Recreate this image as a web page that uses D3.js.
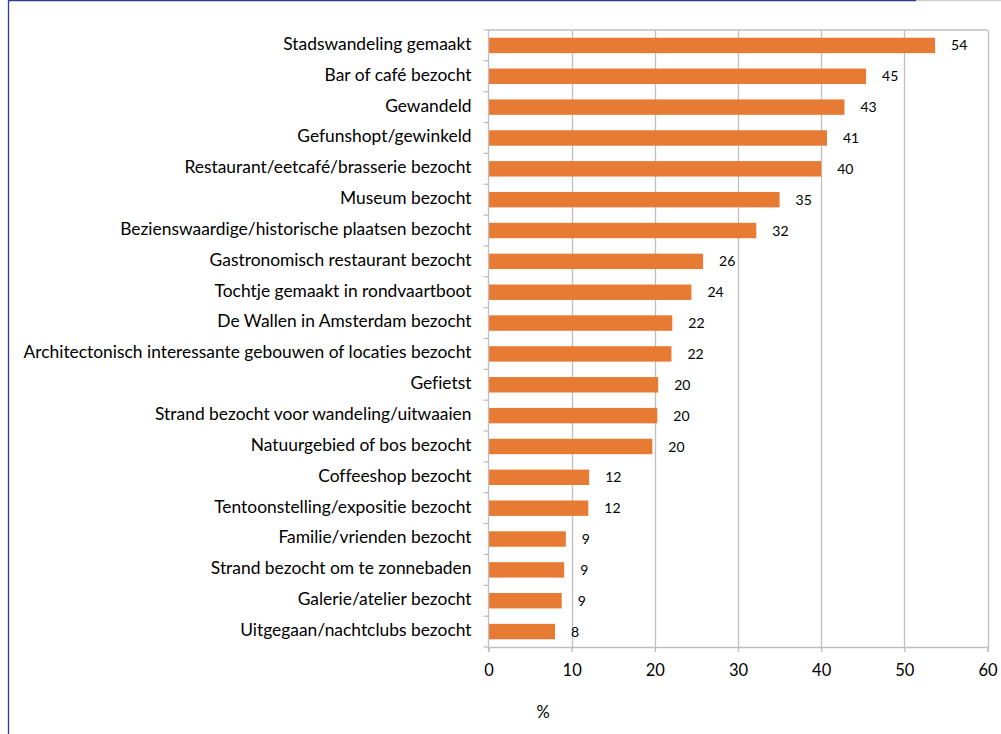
<!DOCTYPE html>
<html>
<head>
<meta charset="utf-8">
<script src="https://cdn.jsdelivr.net/npm/d3@7"></script>
<style>
  body { margin: 0; background: #fff; }
  svg { display: block; }
  text { font-family: Lato, "Open Sans", sans-serif; fill: #000; font-variant-ligatures: none; }
</style>
</head>
<body>
<div id="parentDiv"></div>
<script>
// data (percentages)
const activities = [
  "Stadswandeling gemaakt",
  "Bar of café bezocht",
  "Gewandeld",
  "Gefunshopt/gewinkeld",
  "Restaurant/eetcafé/brasserie bezocht",
  "Museum bezocht",
  "Bezienswaardige/historische plaatsen bezocht",
  "Gastronomisch restaurant bezocht",
  "Tochtje gemaakt in rondvaartboot",
  "De Wallen in Amsterdam bezocht",
  "Architectonisch interessante gebouwen of locaties bezocht",
  "Gefietst",
  "Strand bezocht voor wandeling/uitwaaien",
  "Natuurgebied of bos bezocht",
  "Coffeeshop bezocht",
  "Tentoonstelling/expositie bezocht",
  "Familie/vrienden bezocht",
  "Strand bezocht om te zonnebaden",
  "Galerie/atelier bezocht",
  "Uitgegaan/nachtclubs bezocht"
];
const percentages = [53.7, 45.4, 42.8, 40.7, 40.0, 35.0, 32.2, 25.8, 24.4, 22.1,
                     22.0, 20.4, 20.3, 19.7, 12.1, 12.0, 9.3, 9.1, 8.8, 8.0];
const xTicks = [0, 10, 20, 30, 40, 50, 60];
const xTitle = "%";

const data = activities.map((a, i) => ({ name: a, value: percentages[i] }));

const width = 1001;
const height = 734;
const margin = { top: 30, right: 13.5, bottom: 87, left: 488.5 };

const barColor = "#E77B33";
const gridColor = "#BFBFBF";
const frameColor = "#2E3B8E";

const svg = d3.select('#parentDiv').append('svg')
  .attr('width', width)
  .attr('height', height);

// outer frame (blue left + top edge)
svg.append('line')
  .attr('x1', 8.5).attr('y1', 0).attr('x2', 8.5).attr('y2', height)
  .attr('stroke', frameColor).attr('stroke-width', 1.3);
svg.append('line')
  .attr('x1', 8).attr('y1', 0.6).attr('x2', 916).attr('y2', 0.6)
  .attr('stroke', frameColor).attr('stroke-width', 1.3);
svg.append('line')
  .attr('x1', 916).attr('y1', 0.6).attr('x2', width).attr('y2', 0.6)
  .attr('stroke', "#D0D0D0").attr('stroke-width', 1.3);

const x = d3.scaleLinear()
  .domain([0, 60])
  .range([margin.left, width - margin.right]);

const y = d3.scaleBand()
  .domain(activities)
  .range([margin.top, height - margin.bottom])
  .paddingInner(0.5)
  .paddingOuter(0.25);

const plotTop = margin.top;
const plotBottom = height - margin.bottom;

// vertical gridlines
svg.append('g')
  .selectAll('line')
  .data(xTicks.slice(1))
  .join('line')
  .attr('x1', d => Math.round(x(d)) + 0.5)
  .attr('x2', d => Math.round(x(d)) + 0.5)
  .attr('y1', plotTop)
  .attr('y2', plotBottom)
  .attr('stroke', gridColor)
  .attr('stroke-width', 1.3);

// top border of plot area
svg.append('line')
  .attr('x1', x(0)).attr('x2', x(60))
  .attr('y1', plotTop).attr('y2', plotTop)
  .attr('stroke', gridColor).attr('stroke-width', 1.3);

// bars
svg.append('g')
  .selectAll('rect')
  .data(data)
  .join('rect')
  .attr('x', x(0))
  .attr('y', d => y(d.name))
  .attr('width', d => x(d.value) - x(0))
  .attr('height', y.bandwidth())
  .attr('fill', barColor);

// value labels
svg.append('g')
  .selectAll('text')
  .data(data)
  .join('text')
  .attr('x', d => x(d.value) + 16)
  .attr('y', d => y(d.name) + y.bandwidth() / 2 + 1.5)
  .attr('dominant-baseline', 'middle')
  .attr('font-size', '14px')
  .text(d => Math.round(d.value));

// x axis
const xAxis = svg.append('g')
  .attr('transform', `translate(0, ${plotBottom})`)
  .call(d3.axisBottom(x).tickValues(xTicks).tickSize(5).tickPadding(12));
xAxis.select('.domain').attr('stroke', gridColor).attr('stroke-width', 1.3);
xAxis.selectAll('.tick line').attr('stroke', gridColor).attr('stroke-width', 1.3);
xAxis.selectAll('.tick text')
  .attr('font-size', '16.5px')
  .attr('font-family', 'Lato, sans-serif')
  .attr('fill', '#000');

// y axis: ticks at band boundaries, labels centred on bars
const boundaries = d3.range(activities.length + 1).map(i => plotTop + i * (plotBottom - plotTop) / activities.length);
svg.append('line')
  .attr('x1', x(0)).attr('x2', x(0))
  .attr('y1', plotTop).attr('y2', plotBottom + 5)
  .attr('stroke', gridColor).attr('stroke-width', 1.3);
svg.append('g')
  .selectAll('line')
  .data(boundaries)
  .join('line')
  .attr('x1', x(0) - 5).attr('x2', x(0))
  .attr('y1', d => d).attr('y2', d => d)
  .attr('stroke', gridColor).attr('stroke-width', 1.3);

svg.append('g')
  .selectAll('text')
  .data(activities)
  .join('text')
  .attr('x', x(0) - 17)
  .attr('y', d => y(d) + y.bandwidth() / 2)
  .attr('dominant-baseline', 'middle')
  .attr('text-anchor', 'end')
  .attr('font-size', '17.4px')
  .text(d => d);

// axis title
svg.append('text')
  .attr('x', 543)
  .attr('y', 718)
  .attr('text-anchor', 'middle')
  .attr('font-size', '16.5px')
  .text(xTitle);
</script>
</body>
</html>
